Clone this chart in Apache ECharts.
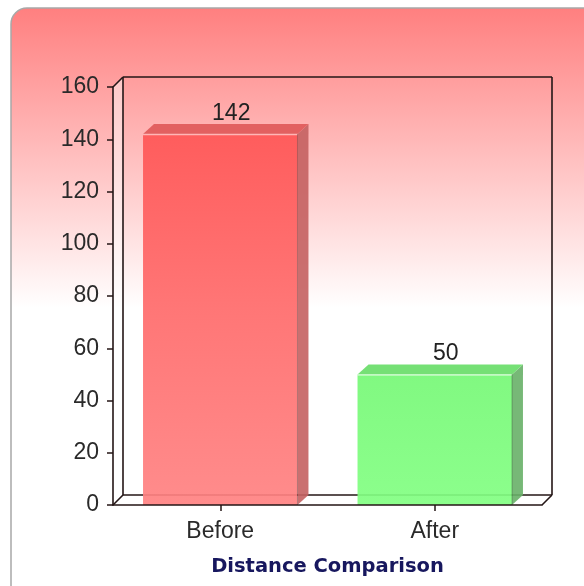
<!DOCTYPE html>
<html>
<head>
<meta charset="utf-8">
<script src="https://cdn.jsdelivr.net/npm/echarts@6/dist/echarts.min.js"></script>
<style>
  html, body { margin: 0; padding: 0; background: #ffffff; }
  #chart { width: 584px; height: 586px; }
</style>
</head>
<body>
<div id="chart"></div>
<script>
// Distance before and after, drawn as extruded bars
const categories = ['Before', 'After'];
const distances = [142, 50];
const axisMin = 0;
const axisMax = 160;
const axisStep = 20;

// Per-bar face colours: front gradient (top, bottom), side, top
const frontTop = ['#ff5555', '#76f876'];
const frontBottom = ['#ff8282', '#82ff82'];
const sideFill = ['#c46060', '#68b068'];
const topFill = ['#e05a5a', '#6cde6c'];

const DEPTH_X = 11;   // extrusion offset of the bars and walls
const DEPTH_Y = 10;
const BAR_RATIO = 0.72;

const labelFont = 'Liberation Sans, Arial, sans-serif';

const chart = echarts.init(document.getElementById('chart'), null, { renderer: 'canvas' });

// Walls and floor of the box that holds the bars
function renderFrame(params, api) {
  const cs = params.coordSys;
  const x0 = cs.x, y0 = cs.y, x1 = cs.x + cs.width, y1 = cs.y + cs.height;
  const dx = 10, dy = 10;
  const line = '#241616';
  const seg = (a, b, c, d) => ({
    type: 'line', shape: { x1: a, y1: b, x2: c, y2: d },
    style: { stroke: line, lineWidth: 1.6 }
  });
  return {
    type: 'group',
    children: [
      // left side wall
      { type: 'polygon', shape: { points: [[x0, y0], [x0 + dx, y0 - dy], [x0 + dx, y1 - dy], [x0, y1]] },
        style: { fill: 'rgba(255,255,255,0.45)' } },
      // floor
      { type: 'polygon', shape: { points: [[x0, y1], [x0 + dx, y1 - dy], [x1 + dx, y1 - dy], [x1, y1]] },
        style: { fill: '#ffffff' } },
      seg(x0, y0, x0 + dx, y0 - dy),
      seg(x0 + dx, y0 - dy, x1 + dx, y0 - dy),
      seg(x0 + dx, y0 - dy, x0 + dx, y1 - dy),
      seg(x1 + dx, y0 - dy, x1 + dx, y1 - dy),
      seg(x0 + dx, y1 - dy, x1 + dx, y1 - dy),
      seg(x0, y1, x0 + dx, y1 - dy),
      seg(x1, y1, x1 + dx, y1 - dy)
    ]
  };
}

function renderBar(params, api) {
  const idx = api.value(0);
  const v = api.value(1);
  const top = api.coord([idx, v]);
  const base = api.coord([idx, axisMin]);
  const w = api.size([1, 0])[0] * BAR_RATIO;
  const l = top[0] - w / 2, r = top[0] + w / 2;
  const t = top[1], b = base[1];
  const i = params.dataIndex;
  return {
    type: 'group',
    children: [
      { type: 'polygon',
        shape: { points: [[r, t], [r + DEPTH_X, t - DEPTH_Y], [r + DEPTH_X, b - DEPTH_Y], [r, b]] },
        style: { fill: sideFill[i], opacity: 0.9 } },
      { type: 'polygon',
        shape: { points: [[l, t], [l + DEPTH_X, t - DEPTH_Y], [r + DEPTH_X, t - DEPTH_Y], [r, t]] },
        style: { fill: topFill[i], opacity: 0.94 } },
      { type: 'rect', shape: { x: l, y: t, width: w, height: b - t },
        style: {
          fill: new echarts.graphic.LinearGradient(0, 0, 0, 1, [
            { offset: 0, color: frontTop[i] },
            { offset: 1, color: frontBottom[i] }
          ]),
          opacity: 0.92
        } },
      { type: 'line', shape: { x1: l, y1: t + 0.5, x2: r, y2: t + 0.5 },
        style: { stroke: 'rgba(255,255,255,0.55)', lineWidth: 1.5 } },
      { type: 'line', shape: { x1: r, y1: t, x2: r, y2: b },
        style: { stroke: 'rgba(0,0,0,0.25)', lineWidth: 1 } },
      { type: 'text',
        style: {
          x: top[0] + DEPTH_X, y: t - DEPTH_Y + 1,
          text: String(v),
          align: 'center', verticalAlign: 'bottom',
          font: '23px ' + labelFont, fill: '#222222'
        } }
    ]
  };
}

chart.setOption({
  animation: false,
  backgroundColor: '#ffffff',
  graphic: {
    elements: [{
      type: 'rect', z: -10, silent: true,
      shape: { x: 11, y: 8, width: 590, height: 600, r: 16 },
      style: {
        fill: new echarts.graphic.LinearGradient(0, 0, 0, 1, [
          { offset: 0, color: '#ff7f7f' },
          { offset: 0.5, color: '#ffffff' },
          { offset: 1, color: '#ffffff' }
        ]),
        stroke: '#a8a8a8', lineWidth: 1.5
      }
    }]
  },
  grid: { left: 113, right: 42, top: 87, bottom: 81, containLabel: false },
  xAxis: {
    type: 'category',
    data: categories,
    z: 10,
    axisLine: { show: true, lineStyle: { color: '#241616', width: 1.6 } },
    axisTick: { show: true, alignWithLabel: true, length: 6, lineStyle: { color: '#241616', width: 1.5 } },
    axisLabel: { margin: 15, fontSize: 23, fontFamily: labelFont, color: '#2a2a2a' },
    name: 'Distance Comparison',
    nameLocation: 'middle',
    nameGap: 52,
    nameTextStyle: { fontFamily: 'DejaVu Sans', fontWeight: 'bold', fontSize: 19.5, color: '#17175e' }
  },
  yAxis: {
    type: 'value',
    min: axisMin, max: axisMax, interval: axisStep,
    z: 10,
    axisLine: { show: true, lineStyle: { color: '#241616', width: 1.6 } },
    axisTick: { show: true, length: 6, lineStyle: { color: '#241616', width: 1.5 } },
    axisLabel: { margin: 14, fontSize: 23, fontFamily: labelFont, color: '#2a2a2a' },
    splitLine: { show: false }
  },
  series: [
    {
      type: 'custom', name: 'frame', silent: true, z: 1,
      renderItem: renderFrame,
      data: [[0, 0]]
    },
    {
      type: 'custom', name: 'Distance', z: 3,
      renderItem: renderBar,
      data: distances.map((d, i) => [i, d])
    }
  ]
});
</script>
</body>
</html>
